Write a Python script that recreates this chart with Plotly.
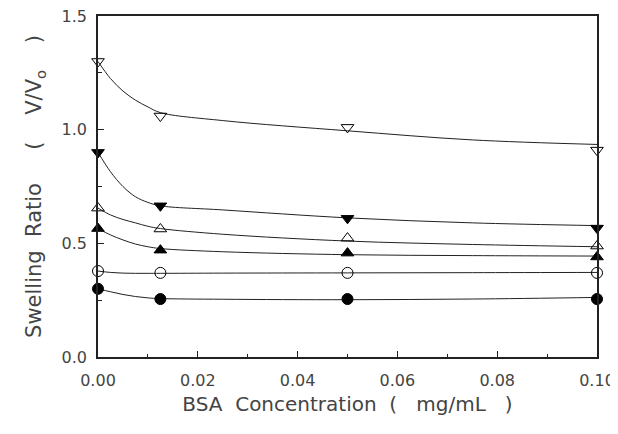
import plotly.graph_objects as go

# Measured data points
x_pts = [0.0, 0.0125, 0.05, 0.10]
s1_pts = [1.30, 1.06, 1.01, 0.91]     # open down-triangle
s2_pts = [0.90, 0.665, 0.61, 0.567]   # filled down-triangle
s3_pts = [0.655, 0.563, 0.523, 0.488] # open up-triangle
s4_pts = [0.565, 0.47, 0.457, 0.44]   # filled up-triangle
s5_pts = [0.378, 0.37, 0.37, 0.37]    # open circle
s6_pts = [0.30, 0.255, 0.255, 0.255]  # filled circle

# Fitted curves
x_fit = [0.0, 0.0025, 0.005, 0.0075, 0.01, 0.0125, 0.025, 0.05, 0.075, 0.10]
s1_fit = [1.30, 1.225, 1.17, 1.13, 1.10, 1.075, 1.04, 0.995, 0.955, 0.935]
s2_fit = [0.90, 0.815, 0.75, 0.705, 0.68, 0.665, 0.647, 0.612, 0.59, 0.578]
s3_fit = [0.655, 0.625, 0.605, 0.59, 0.575, 0.565, 0.54, 0.51, 0.495, 0.485]
s4_fit = [0.565, 0.537, 0.515, 0.497, 0.485, 0.477, 0.463, 0.45, 0.446, 0.444]
s5_fit = [0.378, 0.372, 0.369, 0.368, 0.368, 0.368, 0.369, 0.37, 0.371, 0.372]
s6_fit = [0.30, 0.287, 0.275, 0.266, 0.26, 0.257, 0.254, 0.252, 0.255, 0.262]

x_ticks = [0.0, 0.02, 0.04, 0.06, 0.08, 0.10]
x_ticktext = ["0.00", "0.02", "0.04", "0.06", "0.08", "0.10"]
y_ticks = [0.0, 0.5, 1.0, 1.5]
y_ticktext = ["0.0", "0.5", "1.0", "1.5"]

series = [
    (s1_pts, s1_fit, "triangle-down-open"),
    (s2_pts, s2_fit, "triangle-down"),
    (s3_pts, s3_fit, "triangle-up-open"),
    (s4_pts, s4_fit, "triangle-up"),
    (s5_pts, s5_fit, "circle-open"),
    (s6_pts, s6_fit, "circle"),
]

fig = go.Figure()
for pts, fit, sym in series:
    fig.add_trace(go.Scatter(
        x=x_fit, y=fit, mode="lines", line=dict(color="#222", width=1, shape="spline"),
        showlegend=False, hoverinfo="skip"))
for pts, fit, sym in series:
    fig.add_trace(go.Scatter(
        x=x_pts, y=pts, mode="markers",
        marker=dict(symbol=sym, size=11, color="black", line=dict(color="black", width=1)),
        showlegend=False, cliponaxis=False))

font_tick = dict(family="DejaVu Sans, sans-serif", size=16, color="#444")
font_xtitle = dict(family="DejaVu Sans, sans-serif", size=20, color="#444")
font_ytitle = dict(family="DejaVu Sans, sans-serif", size=21, color="#444")

nb = "\u00a0"
# The page body adds an 8px margin, so the figure is sized to fit inside the window.
fig.update_layout(
    width=610, height=426,
    margin=dict(l=90, r=21, t=8, b=77),
    paper_bgcolor="white", plot_bgcolor="white",
    xaxis=dict(
        range=[0, 0.10], tickvals=x_ticks, ticktext=x_ticktext, automargin=False,
        ticklabeloverflow="allow",
        ticks="inside", ticklen=6, tickwidth=1, tickcolor="#222",
        minor=dict(ticks="inside", ticklen=3, dtick=0.01, tickcolor="#222"),
        showline=True, linecolor="#222", linewidth=1.5, mirror=True,
        showgrid=False, zeroline=False, tickfont=font_tick, ticklabelstandoff=8,
        title=dict(text="BSA" + nb * 2 + "Concentration" + nb * 2 + "(" + nb * 3 + "mg/mL" + nb * 3 + ")",
                   font=font_xtitle, standoff=8),
    ),
    yaxis=dict(
        range=[0, 1.5], tickvals=y_ticks, ticktext=y_ticktext, automargin=False,
        ticklabeloverflow="allow",
        ticks="inside", ticklen=6, tickwidth=1, tickcolor="#222",
        minor=dict(ticks="inside", ticklen=4, dtick=0.25, tickcolor="#222"),
        showline=True, linecolor="#222", linewidth=1.5, mirror=True,
        showgrid=False, zeroline=False, tickfont=font_tick, ticklabelstandoff=6,
        title=dict(text="Swelling" + nb * 2 + "Ratio" + nb * 5 + "(" + nb * 4 + "V/V<sub>o</sub>" + nb * 4 + ")",
                   font=font_ytitle, standoff=14),
    ),
)

fig.write_html("out.html")
